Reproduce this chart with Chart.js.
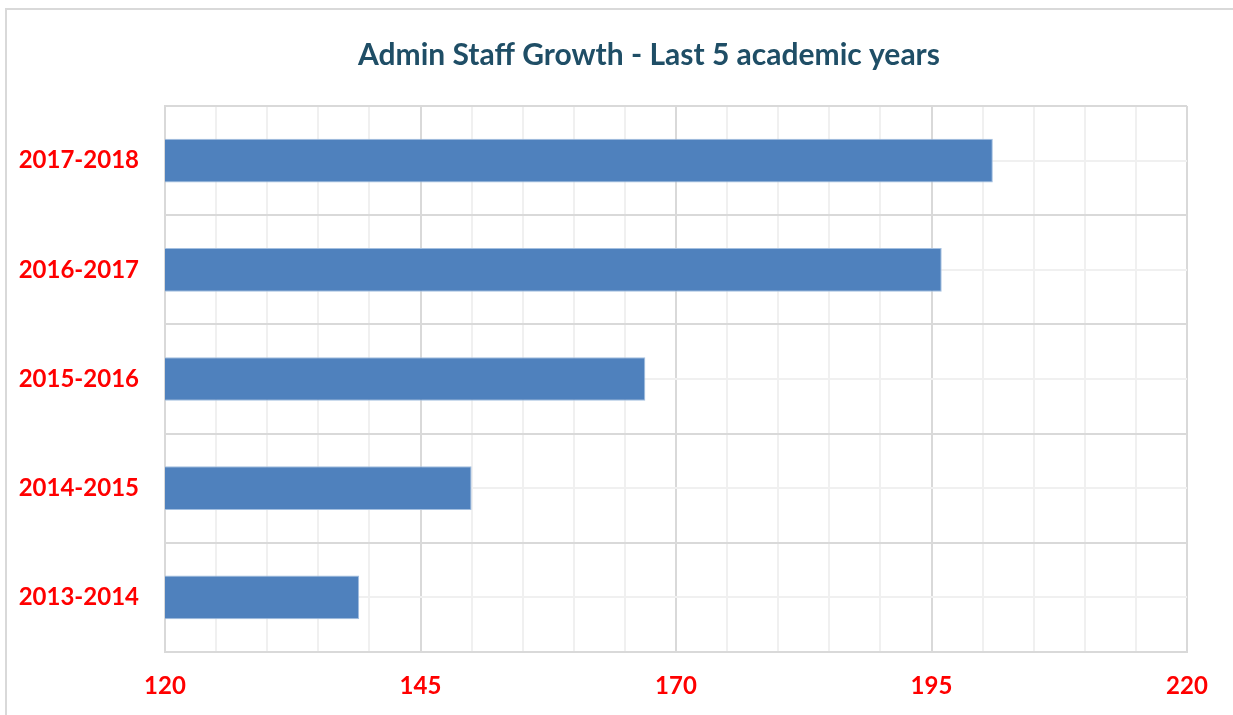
<!DOCTYPE html>
<html>
<head>
<meta charset="utf-8">
<title>Admin Staff Growth</title>
<script src="https://cdn.jsdelivr.net/npm/chart.js@4/dist/chart.umd.min.js"></script>
<style>
  html, body { margin: 0; background: #fff; overflow: hidden; }
  #frame {
    position: absolute; left: 5px; top: 8px; width: 1300px; height: 800px;
    border-left: 2px solid #d9d9d9; border-top: 2px solid #d9d9d9;
  }
  #wrap { position: absolute; left: 0; top: 0; width: 1233px; height: 715px; }
</style>
</head>
<body>
<div id="frame"></div>
<div id="wrap"><canvas id="staffChart"></canvas></div>
<script>
// academic years, oldest first (axis is reversed so the latest sits on top)
const years = ["2013-2014", "2014-2015", "2015-2016", "2016-2017", "2017-2018"];
const adminStaff = [139, 150, 167, 196, 201];
const xMin = 120;
const xMax = 220;
const xStep = 5;
const xLabelStep = 25;

const red = "#ff0000";
const majorGrid = "#d9d9d9";
const minorGrid = "#f0f0f0";

// the chart frame runs past the right edge of the picture, the title is centred on it
const frameLeft = 5;
const frameWidth = 1288;

function isMajor(value) {
  return (value - xMin) % xLabelStep === 0;
}

const titleOnFrame = {
  id: "titleOnFrame",
  afterLayout(chart) {
    const t = chart.titleBlock;
    if (!t) return;
    t.left = frameLeft;
    t.right = frameLeft + frameWidth;
    t.width = frameWidth;
  }
};

const ctx = document.getElementById("staffChart");

new Chart(ctx, {
  type: "bar",
  data: {
    labels: years,
    datasets: [{
      label: "Admin staff",
      data: adminStaff,
      backgroundColor: "#4f81bd",
      borderColor: "#a3bfe0",
      borderWidth: 1,
      barPercentage: 0.4,
      categoryPercentage: 1
    }]
  },
  plugins: [titleOnFrame],
  options: {
    indexAxis: "y",
    responsive: true,
    maintainAspectRatio: false,
    animation: false,
    layout: {
      padding: { left: 0, right: 46, top: 0, bottom: 0 }
    },
    plugins: {
      legend: { display: false },
      tooltip: { enabled: false },
      title: {
        display: true,
        text: "Admin Staff Growth - Last 5 academic years",
        color: "#1f4e66",
        font: { family: "Lato", size: 30, weight: "bold" },
        padding: { top: 37, bottom: 33 }
      }
    },
    scales: {
      x: {
        type: "linear",
        min: xMin,
        max: xMax,
        afterFit: scale => { scale.height = 63; },
        ticks: {
          stepSize: xStep,
          autoSkip: false,
          maxRotation: 0,
          padding: 20,
          color: red,
          font: { family: "Lato", size: 24, weight: "bold" },
          callback: value => (isMajor(value) ? value : "")
        },
        grid: {
          drawTicks: false,
          lineWidth: 2,
          color: c => (isMajor(c.tick.value) ? majorGrid : minorGrid)
        },
        border: { color: majorGrid, width: 2 }
      },
      y: {
        reverse: true,
        offset: true,
        afterFit: scale => { scale.width = 165; },
        ticks: {
          padding: 26,
          color: red,
          font: { family: "Lato", size: 24, weight: "bold" }
        },
        grid: {
          offset: true,
          drawTicks: false,
          lineWidth: 2,
          color: majorGrid
        },
        border: { color: majorGrid, width: 2 }
      },
      // second category axis only for the light lines through the bar centres
      yMid: {
        type: "category",
        position: "left",
        reverse: true,
        offset: true,
        afterFit: scale => { scale.width = 0; },
        ticks: { display: false },
        grid: {
          offset: false,
          drawTicks: false,
          lineWidth: 2,
          color: minorGrid
        },
        border: { display: false }
      }
    }
  }
});
</script>
</body>
</html>
